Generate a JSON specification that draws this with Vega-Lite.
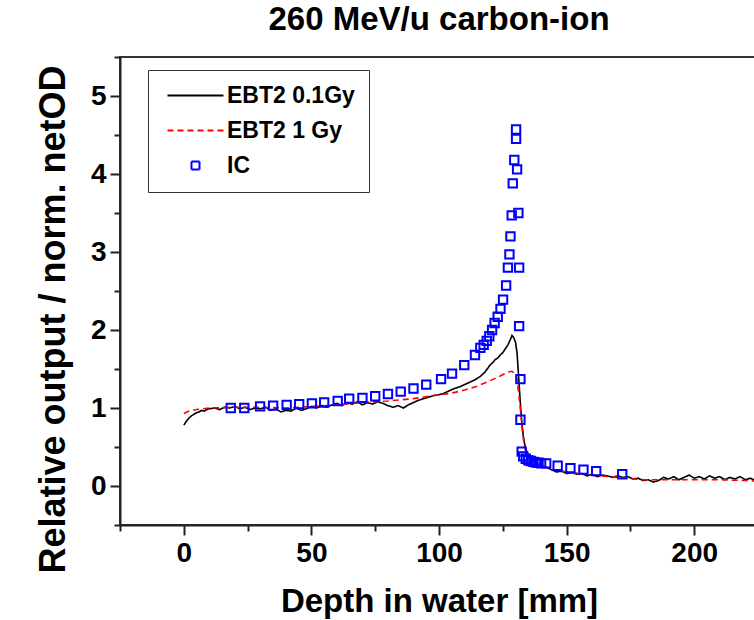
{
  "$schema": "https://vega.github.io/schema/vega-lite/v6.json",
  "width": 638,
  "height": 468,
  "autosize": {"type": "none"},
  "padding": {"left": 120, "top": 57, "right": 0, "bottom": 95},
  "background": "white",
  "title": {"text": "260 MeV/u carbon-ion", "font": "Liberation Sans", "fontSize": 33, "fontWeight": "bold", "color": "black", "anchor": "middle", "offset": 19},
  "config": {
    "view": {"stroke": "#333333", "strokeWidth": 2},
    "axis": {"labelFont": "Liberation Sans", "labelFontSize": 28, "labelFontWeight": "bold", "labelColor": "black", "titleFont": "Liberation Sans", "titleFontSize": 33, "titleFontWeight": "bold", "titleColor": "black", "domainColor": "#222222", "domainWidth": 2, "tickColor": "#222222", "tickWidth": 2, "grid": false}
  },
  "datasets": {
    "film": [
      {"depth": 0, "value": 0.78, "series": "EBT2 0.1Gy"},
      {"depth": 1, "value": 0.83, "series": "EBT2 0.1Gy"},
      {"depth": 2, "value": 0.87, "series": "EBT2 0.1Gy"},
      {"depth": 3, "value": 0.9, "series": "EBT2 0.1Gy"},
      {"depth": 4, "value": 0.92, "series": "EBT2 0.1Gy"},
      {"depth": 5, "value": 0.94, "series": "EBT2 0.1Gy"},
      {"depth": 6, "value": 0.95, "series": "EBT2 0.1Gy"},
      {"depth": 7, "value": 0.97, "series": "EBT2 0.1Gy"},
      {"depth": 8, "value": 0.96, "series": "EBT2 0.1Gy"},
      {"depth": 9, "value": 0.98, "series": "EBT2 0.1Gy"},
      {"depth": 10, "value": 0.99, "series": "EBT2 0.1Gy"},
      {"depth": 12, "value": 1.0, "series": "EBT2 0.1Gy"},
      {"depth": 14, "value": 0.98, "series": "EBT2 0.1Gy"},
      {"depth": 16, "value": 1.01, "series": "EBT2 0.1Gy"},
      {"depth": 18, "value": 1.0, "series": "EBT2 0.1Gy"},
      {"depth": 20, "value": 1.02, "series": "EBT2 0.1Gy"},
      {"depth": 22, "value": 0.99, "series": "EBT2 0.1Gy"},
      {"depth": 24, "value": 1.01, "series": "EBT2 0.1Gy"},
      {"depth": 26, "value": 0.98, "series": "EBT2 0.1Gy"},
      {"depth": 28, "value": 1.0, "series": "EBT2 0.1Gy"},
      {"depth": 30, "value": 0.99, "series": "EBT2 0.1Gy"},
      {"depth": 32, "value": 1.01, "series": "EBT2 0.1Gy"},
      {"depth": 34, "value": 0.97, "series": "EBT2 0.1Gy"},
      {"depth": 36, "value": 0.99, "series": "EBT2 0.1Gy"},
      {"depth": 38, "value": 0.95, "series": "EBT2 0.1Gy"},
      {"depth": 40, "value": 0.97, "series": "EBT2 0.1Gy"},
      {"depth": 42, "value": 0.96, "series": "EBT2 0.1Gy"},
      {"depth": 44, "value": 1.0, "series": "EBT2 0.1Gy"},
      {"depth": 46, "value": 0.97, "series": "EBT2 0.1Gy"},
      {"depth": 48, "value": 0.99, "series": "EBT2 0.1Gy"},
      {"depth": 50, "value": 1.02, "series": "EBT2 0.1Gy"},
      {"depth": 52, "value": 1.0, "series": "EBT2 0.1Gy"},
      {"depth": 54, "value": 1.03, "series": "EBT2 0.1Gy"},
      {"depth": 56, "value": 1.01, "series": "EBT2 0.1Gy"},
      {"depth": 58, "value": 1.04, "series": "EBT2 0.1Gy"},
      {"depth": 60, "value": 1.06, "series": "EBT2 0.1Gy"},
      {"depth": 62, "value": 1.03, "series": "EBT2 0.1Gy"},
      {"depth": 64, "value": 1.07, "series": "EBT2 0.1Gy"},
      {"depth": 66, "value": 1.05, "series": "EBT2 0.1Gy"},
      {"depth": 68, "value": 1.08, "series": "EBT2 0.1Gy"},
      {"depth": 70, "value": 1.04, "series": "EBT2 0.1Gy"},
      {"depth": 72, "value": 1.07, "series": "EBT2 0.1Gy"},
      {"depth": 74, "value": 1.05, "series": "EBT2 0.1Gy"},
      {"depth": 76, "value": 1.08, "series": "EBT2 0.1Gy"},
      {"depth": 78, "value": 1.06, "series": "EBT2 0.1Gy"},
      {"depth": 80, "value": 1.03, "series": "EBT2 0.1Gy"},
      {"depth": 82, "value": 1.01, "series": "EBT2 0.1Gy"},
      {"depth": 84, "value": 1.03, "series": "EBT2 0.1Gy"},
      {"depth": 86, "value": 1.0, "series": "EBT2 0.1Gy"},
      {"depth": 88, "value": 1.04, "series": "EBT2 0.1Gy"},
      {"depth": 90, "value": 1.07, "series": "EBT2 0.1Gy"},
      {"depth": 92, "value": 1.1, "series": "EBT2 0.1Gy"},
      {"depth": 94, "value": 1.12, "series": "EBT2 0.1Gy"},
      {"depth": 96, "value": 1.14, "series": "EBT2 0.1Gy"},
      {"depth": 98, "value": 1.16, "series": "EBT2 0.1Gy"},
      {"depth": 100, "value": 1.17, "series": "EBT2 0.1Gy"},
      {"depth": 102, "value": 1.19, "series": "EBT2 0.1Gy"},
      {"depth": 104, "value": 1.22, "series": "EBT2 0.1Gy"},
      {"depth": 106, "value": 1.25, "series": "EBT2 0.1Gy"},
      {"depth": 108, "value": 1.27, "series": "EBT2 0.1Gy"},
      {"depth": 110, "value": 1.3, "series": "EBT2 0.1Gy"},
      {"depth": 112, "value": 1.33, "series": "EBT2 0.1Gy"},
      {"depth": 114, "value": 1.36, "series": "EBT2 0.1Gy"},
      {"depth": 116, "value": 1.4, "series": "EBT2 0.1Gy"},
      {"depth": 118, "value": 1.46, "series": "EBT2 0.1Gy"},
      {"depth": 120, "value": 1.55, "series": "EBT2 0.1Gy"},
      {"depth": 121, "value": 1.58, "series": "EBT2 0.1Gy"},
      {"depth": 122, "value": 1.62, "series": "EBT2 0.1Gy"},
      {"depth": 123, "value": 1.64, "series": "EBT2 0.1Gy"},
      {"depth": 124, "value": 1.68, "series": "EBT2 0.1Gy"},
      {"depth": 125, "value": 1.71, "series": "EBT2 0.1Gy"},
      {"depth": 126, "value": 1.76, "series": "EBT2 0.1Gy"},
      {"depth": 127, "value": 1.81, "series": "EBT2 0.1Gy"},
      {"depth": 128, "value": 1.88, "series": "EBT2 0.1Gy"},
      {"depth": 128.6, "value": 1.93, "series": "EBT2 0.1Gy"},
      {"depth": 129.3, "value": 1.9, "series": "EBT2 0.1Gy"},
      {"depth": 130, "value": 1.84, "series": "EBT2 0.1Gy"},
      {"depth": 130.6, "value": 1.7, "series": "EBT2 0.1Gy"},
      {"depth": 131, "value": 1.5, "series": "EBT2 0.1Gy"},
      {"depth": 131.5, "value": 1.25, "series": "EBT2 0.1Gy"},
      {"depth": 132, "value": 1.0, "series": "EBT2 0.1Gy"},
      {"depth": 132.5, "value": 0.8, "series": "EBT2 0.1Gy"},
      {"depth": 133, "value": 0.65, "series": "EBT2 0.1Gy"},
      {"depth": 133.5, "value": 0.55, "series": "EBT2 0.1Gy"},
      {"depth": 134, "value": 0.47, "series": "EBT2 0.1Gy"},
      {"depth": 135, "value": 0.4, "series": "EBT2 0.1Gy"},
      {"depth": 136, "value": 0.36, "series": "EBT2 0.1Gy"},
      {"depth": 137, "value": 0.33, "series": "EBT2 0.1Gy"},
      {"depth": 138, "value": 0.3, "series": "EBT2 0.1Gy"},
      {"depth": 140, "value": 0.26, "series": "EBT2 0.1Gy"},
      {"depth": 142, "value": 0.24, "series": "EBT2 0.1Gy"},
      {"depth": 144, "value": 0.21, "series": "EBT2 0.1Gy"},
      {"depth": 146, "value": 0.18, "series": "EBT2 0.1Gy"},
      {"depth": 148, "value": 0.19, "series": "EBT2 0.1Gy"},
      {"depth": 150, "value": 0.16, "series": "EBT2 0.1Gy"},
      {"depth": 152, "value": 0.17, "series": "EBT2 0.1Gy"},
      {"depth": 154, "value": 0.15, "series": "EBT2 0.1Gy"},
      {"depth": 156, "value": 0.16, "series": "EBT2 0.1Gy"},
      {"depth": 158, "value": 0.13, "series": "EBT2 0.1Gy"},
      {"depth": 160, "value": 0.15, "series": "EBT2 0.1Gy"},
      {"depth": 162, "value": 0.12, "series": "EBT2 0.1Gy"},
      {"depth": 164, "value": 0.14, "series": "EBT2 0.1Gy"},
      {"depth": 166, "value": 0.13, "series": "EBT2 0.1Gy"},
      {"depth": 168, "value": 0.11, "series": "EBT2 0.1Gy"},
      {"depth": 170, "value": 0.13, "series": "EBT2 0.1Gy"},
      {"depth": 172, "value": 0.11, "series": "EBT2 0.1Gy"},
      {"depth": 174, "value": 0.12, "series": "EBT2 0.1Gy"},
      {"depth": 176, "value": 0.09, "series": "EBT2 0.1Gy"},
      {"depth": 178, "value": 0.1, "series": "EBT2 0.1Gy"},
      {"depth": 180, "value": 0.07, "series": "EBT2 0.1Gy"},
      {"depth": 182, "value": 0.08, "series": "EBT2 0.1Gy"},
      {"depth": 184, "value": 0.05, "series": "EBT2 0.1Gy"},
      {"depth": 186, "value": 0.07, "series": "EBT2 0.1Gy"},
      {"depth": 188, "value": 0.11, "series": "EBT2 0.1Gy"},
      {"depth": 190, "value": 0.09, "series": "EBT2 0.1Gy"},
      {"depth": 192, "value": 0.12, "series": "EBT2 0.1Gy"},
      {"depth": 194, "value": 0.08, "series": "EBT2 0.1Gy"},
      {"depth": 196, "value": 0.11, "series": "EBT2 0.1Gy"},
      {"depth": 198, "value": 0.14, "series": "EBT2 0.1Gy"},
      {"depth": 200, "value": 0.1, "series": "EBT2 0.1Gy"},
      {"depth": 202, "value": 0.12, "series": "EBT2 0.1Gy"},
      {"depth": 204, "value": 0.09, "series": "EBT2 0.1Gy"},
      {"depth": 206, "value": 0.13, "series": "EBT2 0.1Gy"},
      {"depth": 208, "value": 0.1, "series": "EBT2 0.1Gy"},
      {"depth": 210, "value": 0.12, "series": "EBT2 0.1Gy"},
      {"depth": 212, "value": 0.08, "series": "EBT2 0.1Gy"},
      {"depth": 214, "value": 0.11, "series": "EBT2 0.1Gy"},
      {"depth": 216, "value": 0.09, "series": "EBT2 0.1Gy"},
      {"depth": 218, "value": 0.12, "series": "EBT2 0.1Gy"},
      {"depth": 220, "value": 0.08, "series": "EBT2 0.1Gy"},
      {"depth": 222, "value": 0.1, "series": "EBT2 0.1Gy"},
      {"depth": 224, "value": 0.07, "series": "EBT2 0.1Gy"},
      {"depth": 226, "value": 0.09, "series": "EBT2 0.1Gy"},
      {"depth": 0, "value": 0.93, "series": "EBT2 1 Gy"},
      {"depth": 2, "value": 0.96, "series": "EBT2 1 Gy"},
      {"depth": 5, "value": 0.98, "series": "EBT2 1 Gy"},
      {"depth": 10, "value": 1.0, "series": "EBT2 1 Gy"},
      {"depth": 20, "value": 1.01, "series": "EBT2 1 Gy"},
      {"depth": 30, "value": 1.01, "series": "EBT2 1 Gy"},
      {"depth": 40, "value": 1.0, "series": "EBT2 1 Gy"},
      {"depth": 50, "value": 1.02, "series": "EBT2 1 Gy"},
      {"depth": 60, "value": 1.04, "series": "EBT2 1 Gy"},
      {"depth": 70, "value": 1.07, "series": "EBT2 1 Gy"},
      {"depth": 80, "value": 1.09, "series": "EBT2 1 Gy"},
      {"depth": 90, "value": 1.12, "series": "EBT2 1 Gy"},
      {"depth": 100, "value": 1.17, "series": "EBT2 1 Gy"},
      {"depth": 105, "value": 1.19, "series": "EBT2 1 Gy"},
      {"depth": 110, "value": 1.23, "series": "EBT2 1 Gy"},
      {"depth": 115, "value": 1.28, "series": "EBT2 1 Gy"},
      {"depth": 120, "value": 1.35, "series": "EBT2 1 Gy"},
      {"depth": 124, "value": 1.41, "series": "EBT2 1 Gy"},
      {"depth": 127, "value": 1.46, "series": "EBT2 1 Gy"},
      {"depth": 128.5, "value": 1.47, "series": "EBT2 1 Gy"},
      {"depth": 129.5, "value": 1.45, "series": "EBT2 1 Gy"},
      {"depth": 130.5, "value": 1.38, "series": "EBT2 1 Gy"},
      {"depth": 131.2, "value": 1.2, "series": "EBT2 1 Gy"},
      {"depth": 132, "value": 0.95, "series": "EBT2 1 Gy"},
      {"depth": 132.7, "value": 0.7, "series": "EBT2 1 Gy"},
      {"depth": 133.5, "value": 0.5, "series": "EBT2 1 Gy"},
      {"depth": 134.5, "value": 0.4, "series": "EBT2 1 Gy"},
      {"depth": 136, "value": 0.33, "series": "EBT2 1 Gy"},
      {"depth": 138, "value": 0.29, "series": "EBT2 1 Gy"},
      {"depth": 140, "value": 0.26, "series": "EBT2 1 Gy"},
      {"depth": 145, "value": 0.21, "series": "EBT2 1 Gy"},
      {"depth": 150, "value": 0.18, "series": "EBT2 1 Gy"},
      {"depth": 160, "value": 0.14, "series": "EBT2 1 Gy"},
      {"depth": 170, "value": 0.11, "series": "EBT2 1 Gy"},
      {"depth": 180, "value": 0.08, "series": "EBT2 1 Gy"},
      {"depth": 190, "value": 0.08, "series": "EBT2 1 Gy"},
      {"depth": 200, "value": 0.08, "series": "EBT2 1 Gy"},
      {"depth": 210, "value": 0.08, "series": "EBT2 1 Gy"},
      {"depth": 220, "value": 0.07, "series": "EBT2 1 Gy"},
      {"depth": 226, "value": 0.06, "series": "EBT2 1 Gy"}
    ],
    "ic": [
      {"depth": 18.4, "value": 1.0, "series": "IC"},
      {"depth": 23.7, "value": 1.0, "series": "IC"},
      {"depth": 29.9, "value": 1.02, "series": "IC"},
      {"depth": 35, "value": 1.03, "series": "IC"},
      {"depth": 40.3, "value": 1.04, "series": "IC"},
      {"depth": 45.2, "value": 1.05, "series": "IC"},
      {"depth": 50.2, "value": 1.06, "series": "IC"},
      {"depth": 55, "value": 1.07, "series": "IC"},
      {"depth": 60.3, "value": 1.09, "series": "IC"},
      {"depth": 64.8, "value": 1.12, "series": "IC"},
      {"depth": 70, "value": 1.13, "series": "IC"},
      {"depth": 75, "value": 1.15, "series": "IC"},
      {"depth": 80, "value": 1.18, "series": "IC"},
      {"depth": 85, "value": 1.21, "series": "IC"},
      {"depth": 90, "value": 1.25, "series": "IC"},
      {"depth": 95, "value": 1.3, "series": "IC"},
      {"depth": 100.8, "value": 1.37, "series": "IC"},
      {"depth": 105.1, "value": 1.44, "series": "IC"},
      {"depth": 109.9, "value": 1.55, "series": "IC"},
      {"depth": 114.1, "value": 1.68, "series": "IC"},
      {"depth": 116.2, "value": 1.77, "series": "IC"},
      {"depth": 117.5, "value": 1.81, "series": "IC"},
      {"depth": 118.7, "value": 1.86, "series": "IC"},
      {"depth": 119.7, "value": 1.92, "series": "IC"},
      {"depth": 120.8, "value": 2.0, "series": "IC"},
      {"depth": 121.8, "value": 2.09, "series": "IC"},
      {"depth": 123, "value": 2.17, "series": "IC"},
      {"depth": 124.1, "value": 2.27, "series": "IC"},
      {"depth": 125.1, "value": 2.39, "series": "IC"},
      {"depth": 126.3, "value": 2.57, "series": "IC"},
      {"depth": 127, "value": 2.8, "series": "IC"},
      {"depth": 127.6, "value": 2.97, "series": "IC"},
      {"depth": 128, "value": 3.2, "series": "IC"},
      {"depth": 128.5, "value": 3.47, "series": "IC"},
      {"depth": 128.9, "value": 3.88, "series": "IC"},
      {"depth": 129.5, "value": 4.18, "series": "IC"},
      {"depth": 130.2, "value": 4.45, "series": "IC"},
      {"depth": 130.2, "value": 4.57, "series": "IC"},
      {"depth": 130.6, "value": 4.06, "series": "IC"},
      {"depth": 131.1, "value": 3.5, "series": "IC"},
      {"depth": 131.4, "value": 2.8, "series": "IC"},
      {"depth": 131.4, "value": 2.05, "series": "IC"},
      {"depth": 131.9, "value": 1.37, "series": "IC"},
      {"depth": 131.9, "value": 0.85, "series": "IC"},
      {"depth": 132.4, "value": 0.44, "series": "IC"},
      {"depth": 133, "value": 0.38, "series": "IC"},
      {"depth": 134, "value": 0.35, "series": "IC"},
      {"depth": 135, "value": 0.33, "series": "IC"},
      {"depth": 136, "value": 0.32, "series": "IC"},
      {"depth": 137, "value": 0.31, "series": "IC"},
      {"depth": 138, "value": 0.3, "series": "IC"},
      {"depth": 139, "value": 0.3, "series": "IC"},
      {"depth": 140, "value": 0.29, "series": "IC"},
      {"depth": 142, "value": 0.29, "series": "IC"},
      {"depth": 146.5, "value": 0.26, "series": "IC"},
      {"depth": 151.5, "value": 0.23, "series": "IC"},
      {"depth": 156.6, "value": 0.21, "series": "IC"},
      {"depth": 161.6, "value": 0.19, "series": "IC"},
      {"depth": 171.8, "value": 0.15, "series": "IC"}
    ]
  },
  "encoding": {
    "x": {"field": "depth", "type": "quantitative", "scale": {"domain": [-25, 225], "nice": false, "zero": false},
      "axis": {"title": "Depth in water [mm]", "values": [-25, 0, 25, 50, 75, 100, 125, 150, 175, 200, 225], "labelExpr": "datum.value % 50 === 0 ? format(datum.value, 'd') : ''", "tickSize": {"condition": {"test": "datum.value % 50 === 0", "value": 10}, "value": 6}, "labelPadding": 4, "titlePadding": 18}},
    "y": {"field": "value", "type": "quantitative", "scale": {"domain": [-0.5, 5.5], "nice": false, "zero": false},
      "axis": {"title": "Relative output / norm. netOD", "values": [-0.5, 0, 0.5, 1, 1.5, 2, 2.5, 3, 3.5, 4, 4.5, 5, 5.5], "labelExpr": "datum.value % 1 === 0 ? format(datum.value, 'd') : ''", "tickSize": {"condition": {"test": "datum.value % 1 === 0", "value": 10}, "value": 6}, "labelPadding": 4, "titlePadding": 18, "titleFontSize": 36, "titleY": 262}},
    "color": {"field": "series", "type": "nominal", "scale": {"domain": ["EBT2 0.1Gy", "EBT2 1 Gy", "IC"], "range": ["#000000", "#ff0000", "#0000ff"]},
      "legend": {"title": null, "orient": "none", "legendX": 28, "legendY": 13, "strokeColor": "#333333", "padding": 14, "labelFont": "Liberation Sans", "labelFontSize": 23, "labelFontWeight": "bold", "labelColor": "black", "symbolSize": 64, "symbolStrokeWidth": 2, "symbolOpacity": 1, "rowPadding": 11, "labelOffset": 20, "symbolOffset": 22}}
  },
  "layer": [
    {
      "data": {"name": "film"},
      "mark": {"type": "line", "strokeWidth": 1.6, "clip": true},
      "encoding": {
        "strokeDash": {"field": "series", "type": "nominal", "scale": {"domain": ["EBT2 0.1Gy", "EBT2 1 Gy", "IC"], "range": [[1, 0], [6, 4], [1, 0]]}, "legend": {"title": null}},
        "order": {"field": "depth", "type": "quantitative"}
      }
    },
    {
      "data": {"name": "ic"},
      "mark": {"type": "point", "filled": false, "size": 70, "strokeWidth": 2, "opacity": 1, "clip": true},
      "encoding": {
        "shape": {"field": "series", "type": "nominal", "scale": {"domain": ["EBT2 0.1Gy", "EBT2 1 Gy", "IC"], "range": ["M-7,0H7", "M-7,0H7", "square"]}, "legend": {"title": null}}
      }
    }
  ]
}
